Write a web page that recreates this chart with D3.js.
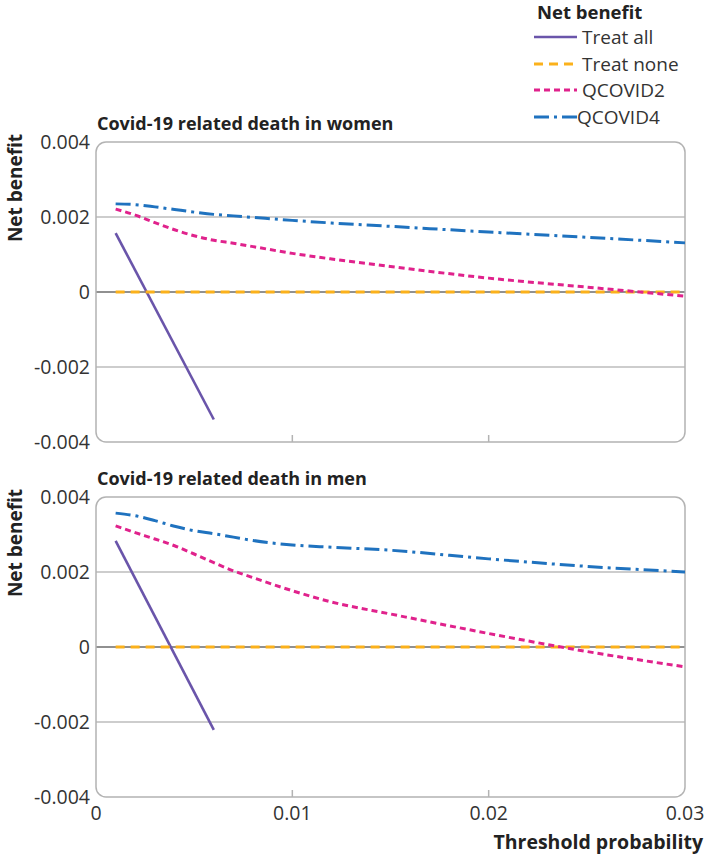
<!DOCTYPE html>
<html>
<head>
<meta charset="utf-8">
<script src="https://cdn.jsdelivr.net/npm/d3@7"></script>
<style>
  body { margin: 0; background: #fff; }
  text { font-family: "Open Sans", sans-serif; }
</style>
</head>
<body>
<div class="chart"></div>
<script>
// threshold probabilities read along the x axis
const ptModel = [0.001, 0.002, 0.003, 0.004, 0.005, 0.006, 0.007, 0.008, 0.01, 0.012, 0.015, 0.02, 0.025, 0.03];
const ptTreatAll = [0.001, 0.006];
const ptTreatNone = [0.001, 0.03];

// women
const womenTreatAll = [0.00157, -0.00340];
const womenTreatNone = [0, 0];
const womenQ2 = [0.00221, 0.00205, 0.00185, 0.00166, 0.00150, 0.00138, 0.00130, 0.00121, 0.00103, 0.00088, 0.00068, 0.00037, 0.00013, -0.00011];
const womenQ4 = [0.00235, 0.00233, 0.00227, 0.00220, 0.00213, 0.00207, 0.00203, 0.00199, 0.00191, 0.00184, 0.00175, 0.00160, 0.00146, 0.00131];

// men
const menTreatAll = [0.00283, -0.00221];
const menTreatNone = [0, 0];
const menQ2 = [0.00323, 0.00305, 0.00288, 0.00270, 0.00248, 0.00225, 0.00203, 0.00185, 0.00150, 0.00120, 0.00088, 0.00036, -0.00012, -0.00053];
const menQ4 = [0.00357, 0.00350, 0.00337, 0.00322, 0.00310, 0.00302, 0.00293, 0.00284, 0.00272, 0.00266, 0.00258, 0.00235, 0.00215, 0.00200];

const seriesNames = ["Treat all", "Treat none", "QCOVID2", "QCOVID4"];
const panelTitles = ["Covid-19 related death in women", "Covid-19 related death in men"];
const yTicks = [-0.004, -0.002, 0, 0.002, 0.004];
const yTickLabels = ["-0.004", "-0.002", "0", "0.002", "0.004"];
const xTicks = [0, 0.01, 0.02, 0.03];
const xTickLabels = ["0", "0.01", "0.02", "0.03"];

const styles = {
  "Treat all": { color: "#6a55aa", width: 2.6, dash: null },
  "Treat none": { color: "#fbb11b", width: 3, dash: "9,6" },
  "QCOVID2": { color: "#e0228c", width: 3, dash: "6,4" },
  "QCOVID4": { color: "#1f72bf", width: 3, dash: "15,5,3,5" }
};

const W = 706, H = 858;
const svg = d3.select(".chart").append("svg")
  .attr("width", W).attr("height", H);

const x = d3.scaleLinear().domain([0, 0.03]).range([96, 685]);

const panels = [
  { title: panelTitles[0], top: 142, data: [[ptTreatAll, womenTreatAll], [ptTreatNone, womenTreatNone], [ptModel, womenQ2], [ptModel, womenQ4]], xLabels: false },
  { title: panelTitles[1], top: 497, data: [[ptTreatAll, menTreatAll], [ptTreatNone, menTreatNone], [ptModel, menQ2], [ptModel, menQ4]], xLabels: true }
];

panels.forEach(p => {
  const y = d3.scaleLinear().domain([-0.004, 0.004]).range([p.top + 300, p.top]);
  const g = svg.append("g");

  // inner gridlines
  g.selectAll(".grid").data([-0.002, 0.002]).enter().append("line")
    .attr("x1", x(0)).attr("x2", x(0.03))
    .attr("y1", d => y(d)).attr("y2", d => y(d))
    .attr("stroke", "#bdbdbd").attr("stroke-width", 1.5);

  // zero line
  g.append("line")
    .attr("x1", x(0)).attr("x2", x(0.03))
    .attr("y1", y(0)).attr("y2", y(0))
    .attr("stroke", "#222").attr("stroke-width", 1.2);

  // frame
  g.append("rect")
    .attr("x", x(0)).attr("y", y(0.004))
    .attr("width", x(0.03) - x(0)).attr("height", y(-0.004) - y(0.004))
    .attr("rx", 10).attr("fill", "none")
    .attr("stroke", "#b3b3b3").attr("stroke-width", 1.5);

  // x ticks (inside, at bottom)
  g.selectAll(".xt").data([0.01, 0.02]).enter().append("line")
    .attr("x1", d => x(d)).attr("x2", d => x(d))
    .attr("y1", y(-0.004)).attr("y2", y(-0.004) - 7)
    .attr("stroke", "#b3b3b3").attr("stroke-width", 1.5);

  // y tick labels
  g.selectAll(".yl").data(yTicks).enter().append("text")
    .attr("x", 90).attr("y", d => y(d)).attr("dy", "0.35em")
    .attr("text-anchor", "end").attr("font-size", 19.5).attr("fill", "#333")
    .text((d, i) => yTickLabels[i]);

  if (p.xLabels) {
    g.selectAll(".xl").data(xTicks).enter().append("text")
      .attr("x", d => x(d)).attr("y", y(-0.004) + 23)
      .attr("text-anchor", "middle").attr("font-size", 19.5).attr("fill", "#333")
      .text((d, i) => xTickLabels[i]);
  }

  // panel title
  g.append("text")
    .attr("x", 97).attr("y", p.top - 12)
    .attr("font-size", 18).attr("font-weight", 700).attr("fill", "#222")
    .text(p.title);

  // y axis title
  g.append("text")
    .attr("transform", `translate(22, ${p.top + 46}) rotate(-90)`)
    .attr("text-anchor", "middle")
    .attr("font-size", 19).attr("font-weight", 700).attr("fill", "#222")
    .text("Net benefit");

  // series
  const line = d3.line().x(d => x(d[0])).y(d => y(d[1])).curve(d3.curveMonotoneX);
  p.data.forEach((s, i) => {
    const st = styles[seriesNames[i]];
    const pts = s[0].map((t, j) => [t, s[1][j]]);
    g.append("path")
      .datum(pts)
      .attr("d", line)
      .attr("fill", "none")
      .attr("stroke", st.color)
      .attr("stroke-width", st.width)
      .attr("stroke-dasharray", st.dash);
  });
});

// x axis title
svg.append("text")
  .attr("x", 703).attr("y", 849)
  .attr("text-anchor", "end")
  .attr("font-size", 19.5).attr("font-weight", 700).attr("fill", "#222")
  .text("Threshold probability");

// legend
const legend = svg.append("g");
legend.append("text")
  .attr("x", 537).attr("y", 19)
  .attr("font-size", 18.5).attr("font-weight", 700).attr("fill", "#222")
  .text("Net benefit");

const legendRows = [37, 64, 90, 117];
seriesNames.forEach((name, i) => {
  const st = styles[name];
  legend.append("line")
    .attr("x1", 534).attr("x2", 577)
    .attr("y1", legendRows[i]).attr("y2", legendRows[i])
    .attr("stroke", st.color).attr("stroke-width", st.width)
    .attr("stroke-dasharray", st.dash);
  legend.append("text")
    .attr("x", i === 3 ? 577 : 582).attr("y", legendRows[i]).attr("dy", "0.35em")
    .attr("font-size", 19).attr("fill", "#333")
    .text(name);
});
</script>
</body>
</html>
